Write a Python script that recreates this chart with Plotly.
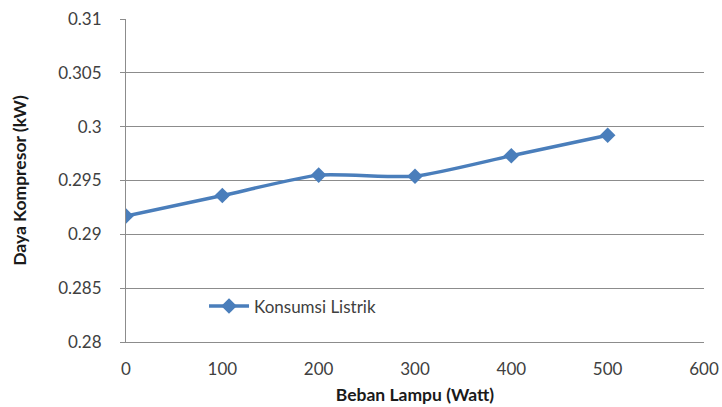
import plotly.graph_objects as go

# Beban lampu (W) vs daya kompresor (kW)
beban = [0, 100, 200, 300, 400, 500]
daya = [0.2917, 0.2936, 0.2955, 0.2954, 0.2973, 0.2992]

x_ticks = [0, 100, 200, 300, 400, 500, 600]
y_ticks = [0.28, 0.285, 0.29, 0.295, 0.3, 0.305, 0.31]
y_labels = ["0.28", "0.285", "0.29", "0.295", "0.3", "0.305", "0.31"]

blue = "#4A7EBB"
grid = "#8C8C8C"
font_family = "Lato, 'Open Sans', sans-serif"

fig = go.Figure()
fig.add_trace(go.Scatter(
    x=beban, y=daya, mode="lines+markers", name="Konsumsi Listrik",
    line=dict(color=blue, width=3.5, shape="spline", smoothing=0.6),
    marker=dict(symbol="diamond", size=12, color=blue),
))

fig.update_layout(
    width=722, height=407,
    margin=dict(l=126, r=18, t=19, b=65),
    paper_bgcolor="white", plot_bgcolor="white",
    font=dict(family=font_family, size=17, color="#404040"),
    showlegend=True,
    legend=dict(x=0.135, y=0.11, xanchor="left", yanchor="middle", itemwidth=40,
                bgcolor="rgba(0,0,0,0)", font=dict(size=17, color="#404040")),
    xaxis=dict(
        range=[0, 600], tickvals=x_ticks, showgrid=False, zeroline=False,
        showline=True, linecolor=grid, linewidth=1,
        ticks="", ticklen=0, ticklabelstandoff=12, automargin=False,
        title=dict(text="<b>Beban Lampu (Watt)</b>", font=dict(size=17.5, color="#1a1a1a"),
                   standoff=10),
    ),
    yaxis=dict(
        range=[0.28, 0.31], tickvals=y_ticks, ticktext=y_labels,
        showgrid=True, gridcolor=grid, gridwidth=1, zeroline=False,
        showline=True, linecolor=grid, linewidth=1,
        ticks="outside", ticklen=5, tickcolor=grid, ticklabelstandoff=15,
        automargin=False,
        title=dict(text="<b>Daya Kompresor (kW)</b>", font=dict(size=17.5, color="#1a1a1a"),
                   standoff=27),
    ),
)

fig.write_html("out.html")
